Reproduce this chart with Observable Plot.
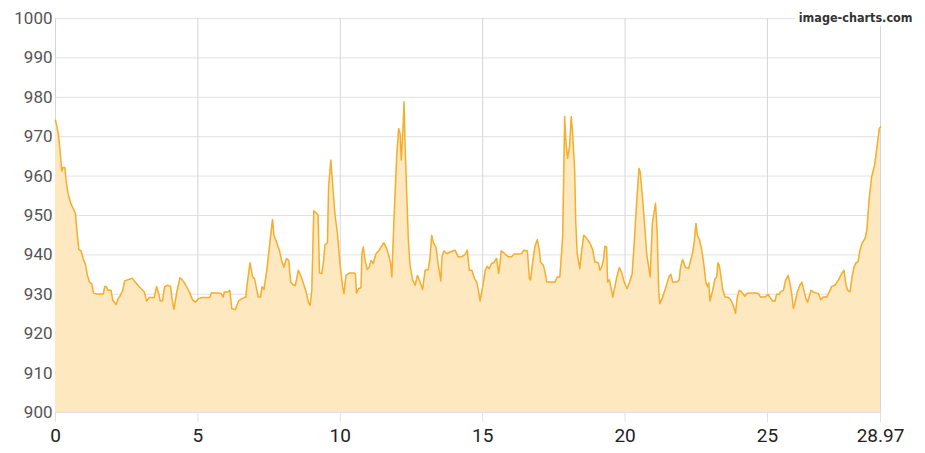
<!DOCTYPE html>
<html>
<head>
<meta charset="utf-8">
<script src="https://cdn.jsdelivr.net/npm/d3@7"></script>
<script src="https://cdn.jsdelivr.net/npm/@observablehq/plot@0.6"></script>
<style>
  html, body { margin: 0; padding: 0; background: #fff; }
  #chart { width: 925px; height: 453px; }
</style>
</head>
<body>
<div id="chart"></div>
<script>
const xs = [0,0.1,0.18,0.22,0.26,0.33,0.37,0.44,0.54,0.64,0.7,0.75,0.82,0.9,0.97,1.05,1.12,1.19,1.27,1.34,1.43,1.54,1.68,1.73,1.78,1.85,1.95,2.01,2.13,2.2,2.28,2.36,2.43,2.51,2.59,2.69,2.8,2.94,3.12,3.2,3.29,3.47,3.55,3.62,3.68,3.76,3.83,3.94,4.04,4.09,4.16,4.25,4.37,4.46,4.58,4.72,4.81,4.91,5.02,5.16,5.42,5.47,5.63,5.82,5.89,5.93,6.05,6.12,6.19,6.31,6.43,6.54,6.68,6.74,6.83,6.92,6.99,
7.12,7.2,7.25,7.32,7.42,7.53,7.62,7.67,7.76,7.86,7.94,8.02,8.11,8.19,8.26,8.33,8.42,8.53,8.61,8.7,8.8,8.88,8.94,9.0,9.07,9.15,9.22,9.27,9.35,9.41,9.46,9.55,9.59,9.67,9.73,9.81,9.9,9.99,10.08,10.13,10.2,10.32,10.46,10.53,10.57,10.64,10.73,10.76,10.81,10.87,10.95,11.02,11.08,11.16,11.25,11.37,11.45,11.53,11.63,11.7,11.77,11.81,11.89,11.98,12.05,12.1,12.14,12.2,12.24,12.27,12.33,12.39,12.45,12.54,12.63,12.71,12.8,12.89,12.98,13.09,13.15,13.21,13.27,13.36,13.44,13.53,
13.57,13.64,13.74,13.87,14.03,14.14,14.26,14.38,14.46,14.53,14.62,14.71,14.79,14.85,14.91,15.0,15.09,15.16,15.23,15.31,15.39,15.49,15.56,15.61,15.65,15.78,15.9,16.02,16.1,16.25,16.37,16.45,16.57,16.64,16.68,16.75,16.83,16.92,16.99,17.03,17.13,17.19,17.25,17.36,17.54,17.62,17.71,17.81,17.88,17.92,17.98,18.05,18.11,18.16,18.23,18.27,18.32,18.41,18.48,18.55,18.65,18.76,18.86,18.94,19.06,19.12,19.18,19.24,19.29,19.35,19.39,19.45,19.5,19.57,19.62,19.71,19.8,19.89,19.97,20.07,20.16,20.25,20.32,20.42,20.49,20.53,
20.62,20.7,20.76,20.88,20.96,21.07,21.13,21.18,21.22,21.3,21.4,21.48,21.55,21.61,21.67,21.81,21.9,21.95,22.02,22.12,22.23,22.3,22.38,22.43,22.49,22.54,22.61,22.69,22.77,22.84,22.9,22.94,22.98,23.08,23.16,23.22,23.26,23.31,23.36,23.43,23.51,23.63,23.71,23.8,23.88,23.94,24.01,24.09,24.21,24.27,24.39,24.56,24.68,24.76,24.91,25.03,25.09,25.18,25.27,25.32,25.42,25.46,25.56,25.64,25.73,25.79,25.85,25.91,25.96,26.05,26.14,26.21,26.28,26.35,26.41,26.47,26.53,26.61,26.73,26.79,26.87,26.96,27.08,27.17,27.26,27.37,27.49,27.61,27.69,27.76,27.82,27.9,27.97,28.04,28.11,28.18,28.25,28.32,28.43,28.49,28.58,28.66,28.76,28.84,28.93,28.97];

const ys = [974.2,970.8,964.9,961.3,962.2,962.2,959,955.6,953,951.5,950.5,946.3,941.4,941,939.1,937.6,934.8,933.1,932.7,930.3,930.1,930.1,930.1,932,932,931,931,928.5,927.4,928.9,929.7,931,933.4,933.6,933.8,934.1,933.1,931.9,930.6,928.3,929.2,929.2,932,930.2,928.3,928.3,931.9,932.3,932,928.9,926.2,930.2,934.2,933.6,932.3,930.3,928.6,928,928.9,929.2,929.2,930.3,930.3,930.2,929.3,930.6,930.6,931,926.4,926.1,928.3,928.9,929.3,933.1,938,934.4,934,
929.3,929.3,931.9,931.2,936.1,943.3,949,945,943.3,941.2,938.6,936.9,939.1,938.6,933.1,932.5,932.2,936.1,934.8,932.9,930.6,928,927.2,931,951.2,950.7,950.1,935.4,935.3,938.2,942.5,943.1,957.3,964.1,958.1,950.5,945.4,937.8,932,930.2,934.8,935.4,935.4,935.3,930.3,931.4,931.7,940.3,942,938.6,936.3,936.9,938.6,937.8,940.2,941.2,942.2,943.1,941.6,939.9,937.8,934.4,949.7,964.9,972.1,970.8,964.1,971.7,978.9,969.2,956.4,943.7,937.4,933.6,932.3,934.8,933.1,931.2,936.1,936.3,939.1,945,943.1,942,937.4,933.4,
939.5,941,940.3,940.8,941.2,939.5,939.5,940.1,941.2,936.1,936.1,934,933.1,931,928.3,931.9,936.1,937.1,936.5,937.8,938,939.1,935.3,937.8,941,940.3,939.5,939.5,940.2,940.2,940.3,941.2,941,934,933.6,937.8,942,943.9,941.2,938.2,937.4,935.7,933.1,933.1,933.1,934.4,934.4,944.6,975.1,969.2,964.5,967.5,975.1,970.8,961.5,948,940.3,936.5,941.2,945,944.2,943.1,941.4,938.2,938,936.1,936.9,938.6,942.2,942,933.1,933.7,931.9,929.3,931.2,934.4,936.8,935.3,933.1,931.4,933.1,935.3,942.9,954.7,962,961.1,
953.9,946.3,940.3,934.4,948,953.1,945.4,931,927.6,928.9,931,932.9,934.6,935.1,933.1,933.1,933.6,936.9,938.8,936.9,936.5,938.5,940.8,943.3,948,945,943.9,941.4,937.4,932.9,931.9,932.9,928.3,931,934,934.4,938,937.4,934.8,931.2,929.3,929.2,928.6,927.2,925.2,929.2,931,930.6,929.5,930.2,930.3,930.3,930.2,929.3,929.3,930,929.2,928.3,928.3,930,930,930.6,931,933.6,934.8,932.7,930.2,926.4,927.6,930.6,932.3,933.1,931,928.9,928,929.5,931,930.6,930.3,930.2,928.6,929.3,929.3,930.6,932,932.3,933.6,935.3,936.1,932.3,931,930.6,934.4,936.9,938,938.2,941.2,942.9,944.2,946.3,954.7,959.8,962.7,967,972.1,972.5];

const xTicks = [0, 5, 10, 15, 20, 25, 28.97];
const yTicks = [900, 910, 920, 930, 940, 950, 960, 970, 980, 990, 1000];
const watermark = ["image-charts.com"];

const data = xs.map((x, i) => ({x, y: ys[i]}));

const chart = Plot.plot({
  width: 925,
  height: 453,
  marginLeft: 55,
  marginRight: 45,
  marginTop: 18,
  marginBottom: 41,
  style: {fontFamily: "Roboto, sans-serif", background: "#fff"},
  x: {domain: [0, 28.97], label: null},
  y: {domain: [900, 1000], label: null},
  marks: [
    Plot.gridY(yTicks, {stroke: "#e2e2e2", strokeOpacity: 1}),
    Plot.gridX(xTicks, {stroke: "#d6d6d6", strokeOpacity: 1}),
    Plot.areaY(data, {x: "x", y1: () => 900, y2: "y", fill: "#fde8c0", fillOpacity: 1}),
    Plot.line(data, {x: "x", y: "y", stroke: "#f6ad2a", strokeWidth: 1.5}),
    Plot.ruleY([900], {stroke: "#e2e2e2"}),
    Plot.axisX({ticks: xTicks, tickFormat: d => String(d), label: null, tickSize: 10, tickPadding: 6, fontSize: 19, stroke: "#e0e0e0", color: "#222"}),
    Plot.axisY({ticks: yTicks, tickFormat: d => String(d), label: null, tickSize: 0, tickPadding: 3, fontSize: 17, color: "#555"}),
    Plot.text(watermark, {frameAnchor: "top-right", dx: 32, dy: -1, text: d => d, fontSize: 12.5, fontWeight: "bold", fontFamily: "DejaVu Sans Condensed, sans-serif", fill: "#333", stroke: "white", strokeWidth: 8, textAnchor: "end", lineAnchor: "middle"})
  ]
});
document.getElementById("chart").appendChild(chart);
</script>
</body>
</html>
